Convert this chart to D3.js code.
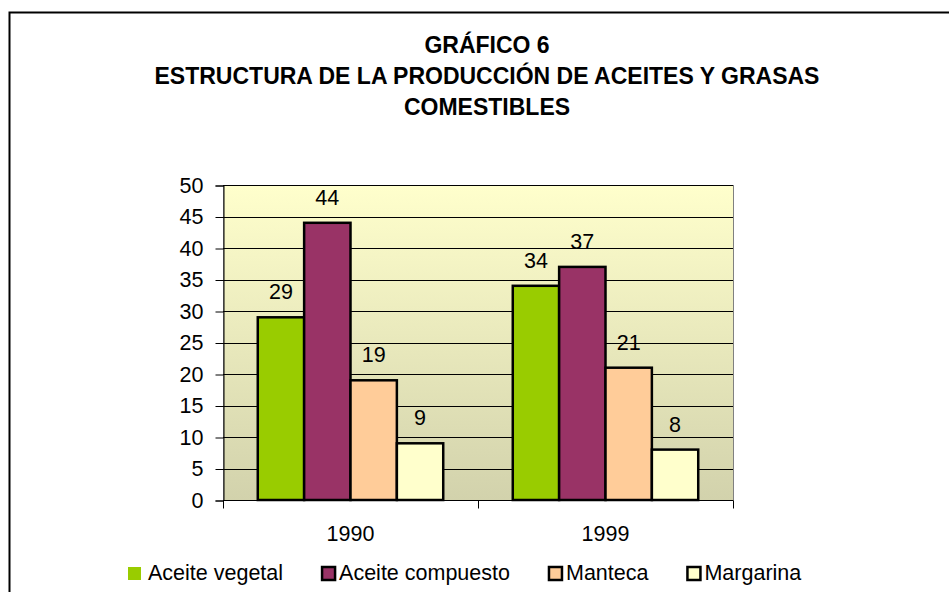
<!DOCTYPE html>
<html>
<head>
<meta charset="utf-8">
<script src="https://cdn.jsdelivr.net/npm/d3@7"></script>
<style>
  body { margin: 0; background: #fff; }
  text { font-family: "Liberation Sans", Arial, sans-serif; fill: #000; }
</style>
</head>
<body>
<svg id="chart" width="949" height="592"></svg>
<script>
// data
const years = ['1990', '1999'];
const series = ['Aceite vegetal', 'Aceite compuesto', 'Manteca', 'Margarina'];
const values1990 = [29, 44, 19, 9];
const values1999 = [34, 37, 21, 8];
const colors = ['#99CC00', '#993366', '#FFCC99', '#FFFFCC'];
const yTicks = [0, 5, 10, 15, 20, 25, 30, 35, 40, 45, 50];
const titleLines = ['GRÁFICO 6', 'ESTRUCTURA DE LA PRODUCCIÓN DE ACEITES Y GRASAS', 'COMESTIBLES'];

const rows = years.map((yr, i) => ({ year: yr, vals: i === 0 ? values1990 : values1999 }));

const FS = '21.5px';
const svg = d3.select('#chart');
const pLeft = 223, pRight = 733, pTop = 185, pBottom = 500;

// outer border (top + left visible)
svg.append('path')
  .attr('d', 'M9.5,592 L9.5,12.5 L949,12.5')
  .attr('fill', 'none')
  .attr('stroke', '#000')
  .attr('stroke-width', 2);

// title
svg.append('g').selectAll('text')
  .data(titleLines)
  .enter()
  .append('text')
  .attr('x', 487)
  .attr('y', (d, i) => 53 + i * 31)
  .attr('text-anchor', 'middle')
  .style('font-size', '23px')
  .style('font-weight', 'bold')
  .text(d => d);

// plot background gradient
const grad = svg.append('defs').append('linearGradient')
  .attr('id', 'bg').attr('x1', 0).attr('y1', 0).attr('x2', 0).attr('y2', 1);
grad.append('stop').attr('offset', '0%').attr('stop-color', '#FFFFCC');
grad.append('stop').attr('offset', '100%').attr('stop-color', '#D2D2AC');

svg.append('rect')
  .attr('x', pLeft + 0.5).attr('y', pTop + 0.5)
  .attr('width', pRight - pLeft).attr('height', pBottom - pTop)
  .attr('fill', 'url(#bg)')
  .attr('stroke', '#808080');

const y = d3.scaleLinear().domain([0, 50]).range([pBottom, pTop]);
const x0 = d3.scaleBand().domain(years).range([pLeft, pRight]);
const x1 = d3.scaleBand().domain(series).range([0, x0.bandwidth()]).paddingOuter(0.75);

// gridlines
svg.append('g').selectAll('line')
  .data(yTicks.filter(t => t > 0))
  .enter()
  .append('line')
  .attr('x1', pLeft).attr('x2', pRight)
  .attr('y1', d => Math.round(y(d)) + 0.5).attr('y2', d => Math.round(y(d)) + 0.5)
  .attr('stroke', '#000')
  .attr('stroke-width', 1);

// y axis
const yAxis = svg.append('g')
  .attr('transform', 'translate(' + (pLeft + 0.5) + ',0.5)')
  .call(d3.axisLeft(y).tickValues(yTicks).tickSize(8).tickPadding(12));
yAxis.select('.domain').attr('stroke', '#000');
yAxis.selectAll('text')
  .style('font-size', FS)
  .style('font-family', '"Liberation Sans", Arial, sans-serif')
  .attr('fill', '#000');

// x axis
const xAxis = svg.append('g')
  .attr('transform', 'translate(0,' + (pBottom + 0.5) + ')');
xAxis.append('line')
  .attr('x1', pLeft).attr('x2', pRight).attr('y1', 0).attr('y2', 0)
  .attr('stroke', '#000');
xAxis.selectAll('line.tk')
  .data([pLeft, pLeft + x0.bandwidth(), pRight])
  .enter()
  .append('line')
  .attr('class', 'tk')
  .attr('x1', d => d + 0.5).attr('x2', d => d + 0.5)
  .attr('y1', 0).attr('y2', 8)
  .attr('stroke', '#000');
xAxis.selectAll('text')
  .data(years)
  .enter()
  .append('text')
  .attr('x', d => x0(d) + x0.bandwidth() / 2)
  .attr('y', 40)
  .attr('text-anchor', 'middle')
  .style('font-size', FS)
  .text(d => d);

// bars
const groups = svg.append('g').selectAll('g')
  .data(rows)
  .enter()
  .append('g')
  .attr('transform', d => 'translate(' + x0(d.year) + ',0)');

groups.selectAll('rect')
  .data(d => d.vals.map((v, i) => ({ key: series[i], v: v, c: colors[i] })))
  .enter()
  .append('rect')
  .attr('x', d => x1(d.key))
  .attr('y', d => y(d.v))
  .attr('width', x1.bandwidth())
  .attr('height', d => pBottom - y(d.v))
  .attr('fill', d => d.c)
  .attr('stroke', '#000')
  .attr('stroke-width', 2.5);

groups.selectAll('text')
  .data(d => d.vals.map((v, i) => ({ key: series[i], v: v })))
  .enter()
  .append('text')
  .attr('x', d => x1(d.key) + x1.bandwidth() / 2)
  .attr('y', d => y(d.v) - 18)
  .attr('text-anchor', 'middle')
  .style('font-size', FS)
  .text(d => d.v);

// legend
const legend = svg.append('g').attr('transform', 'translate(127,566)');
let lx = 0;
series.forEach(function(s, i) {
  const g = legend.append('g').attr('transform', 'translate(' + lx + ',0)');
  g.append('rect')
    .attr('x', 1).attr('y', 1)
    .attr('width', 13).attr('height', 13)
    .attr('fill', colors[i])
    .attr('stroke', i === 0 ? 'none' : '#000')
    .attr('stroke-width', 2.5);
  const off = i === 0 ? 21 : 18;
  const t = g.append('text')
    .attr('x', off)
    .attr('y', 14)
    .style('font-size', FS)
    .text(s);
  lx += off + t.node().getComputedTextLength() + 38;
});
</script>
</body>
</html>
